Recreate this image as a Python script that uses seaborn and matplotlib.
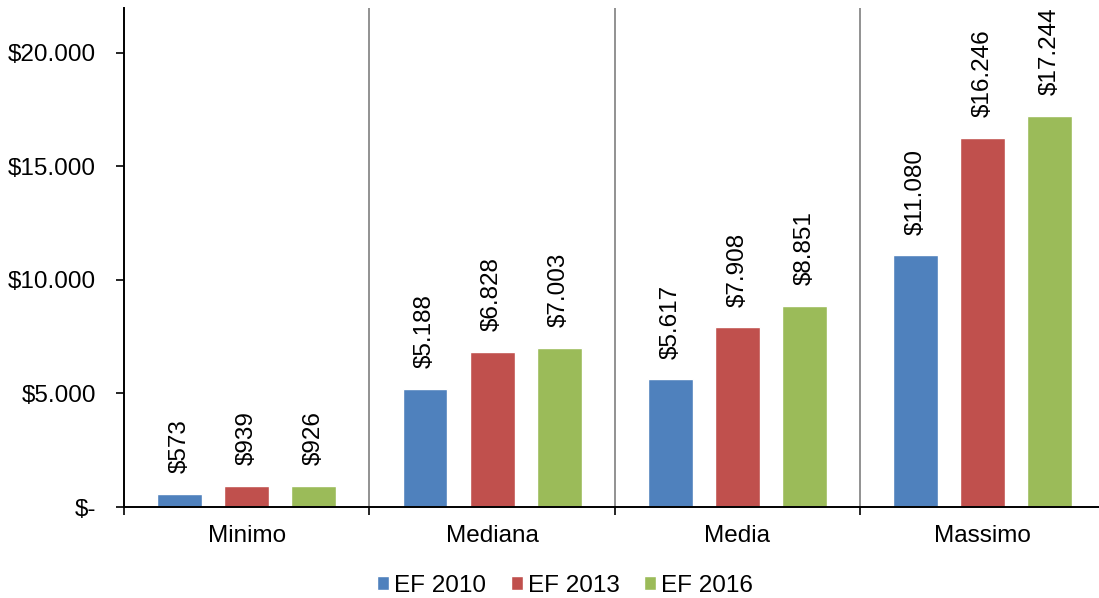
import matplotlib
matplotlib.use("Agg")
import matplotlib.pyplot as plt
import seaborn as sns
import pandas as pd
import numpy as np
from matplotlib.patches import Patch

# Dati del grafico
categorie = ['Minimo', 'Mediana', 'Media', 'Massimo']
serie = ['EF 2010', 'EF 2013', 'EF 2016']
ef_2010 = [573, 5188, 5617, 11080]
ef_2013 = [939, 6828, 7908, 16246]
ef_2016 = [926, 7003, 8851, 17244]
y_ticks = [0, 5000, 10000, 15000, 20000]
y_tick_labels = ['$-', '$5.000', '$10.000', '$15.000', '$20.000']
colori = ['#4F81BD', '#C0504D', '#9BBB59']

df = pd.DataFrame({
    'categoria': categorie * 3,
    'serie': [s for s in serie for _ in categorie],
    'valore': ef_2010 + ef_2013 + ef_2016,
})

sns.set_style('white')
plt.rcParams['font.family'] = ['Liberation Sans', 'DejaVu Sans']
plt.rcParams['text.color'] = 'black'
plt.rcParams['xtick.color'] = 'black'
plt.rcParams['ytick.color'] = 'black'

FS = 17.5

fig = plt.figure(figsize=(10.99, 5.98), dpi=100)
ax = fig.add_axes([124 / 1099, 1 - 507 / 598, (1099 - 124) / 1099, (507 - 8) / 598])

sns.barplot(data=df, x='categoria', y='valore', hue='serie', order=categorie,
            hue_order=serie, palette=colori, width=0.82, gap=0.33,
            saturation=1, legend=False, ax=ax)

def formato(v):
    return '$' + f'{v:,.0f}'.replace(',', '.')

# etichette sopra le barre
for cont in ax.containers:
    for bar in cont:
        h = bar.get_height()
        ax.annotate(formato(h), (bar.get_x() + bar.get_width() / 2, h),
                    xytext=(0, 15), textcoords='offset points',
                    rotation=90, ha='center', va='bottom', fontsize=FS)

ax.set_ylim(0, 21980)
ax.set_xlim(-0.5, 3.5 - 6.5 / 245.5)
ax.set_yticks(y_ticks)
ax.set_yticklabels(y_tick_labels, fontsize=FS)
ax.set_xlabel('')
ax.set_ylabel('')

# separatori tra le categorie
for xb in [0.5, 1.5, 2.5]:
    ax.axvline(xb, color='#7F7F7F', lw=1.2)
ax.set_xticks(range(len(categorie)))
ax.set_xticklabels(categorie, fontsize=FS)
ax.tick_params(axis='x', which='major', length=0, pad=13)
ax.set_xticks([-0.5, 0.5, 1.5, 2.5], minor=True)
ax.tick_params(axis='x', which='minor', length=6, width=1.2, color='black',
               direction='out', bottom=True)
ax.tick_params(axis='y', length=6, width=1.2, color='black', direction='out',
               left=True, pad=14)

sns.despine(ax=ax, top=True, right=True)
for s in ['left', 'bottom']:
    ax.spines[s].set_color('black')
    ax.spines[s].set_linewidth(1.4)

handles = [Patch(facecolor=c, label=s) for c, s in zip(colori, serie)]
fig.legend(handles=handles, loc='center', bbox_to_anchor=(0.514, 1 - 586 / 598), ncol=3,
           frameon=False, fontsize=FS, handlelength=0.5, handleheight=0.5,
           handletextpad=0.2, columnspacing=1.0)

fig.savefig('out.png', dpi=100)
